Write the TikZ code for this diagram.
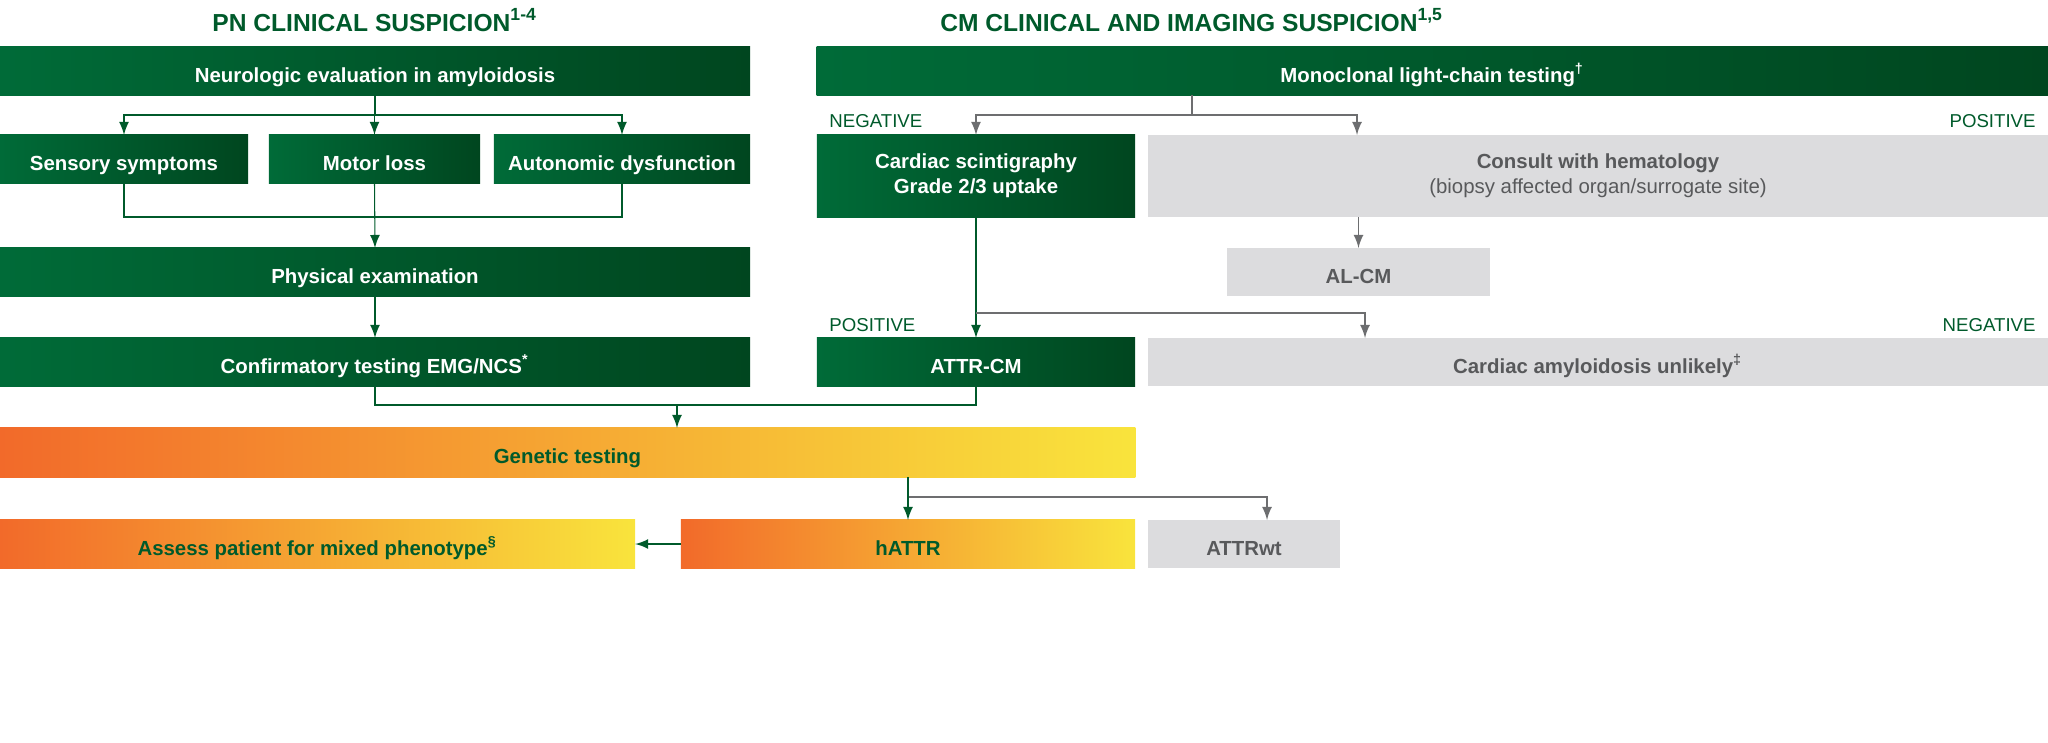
\documentclass[tikz,border=0pt]{standalone}
\usepackage{fontspec}
\setmainfont{Liberation Sans}
\usetikzlibrary{calc}
\usetikzlibrary{arrows}
\usetikzlibrary{positioning}
\definecolor{DarkGreen}{HTML}{005A2B}
\definecolor{MidGreen}{HTML}{006B38}
\definecolor{DeepGreen}{HTML}{00461F}
\definecolor{LightGrey}{HTML}{DCDCDE}
\definecolor{TextGrey}{HTML}{58595B}
\definecolor{FlameOrange}{HTML}{F26A2A}
\definecolor{SunYellow}{HTML}{F9E43C}
\definecolor{LineGrey}{HTML}{6D6E70}
\tikzset{
  box/.style={rectangle, inner sep=0pt, outer sep=0pt, minimum height=0.48cm,
    font=\fontsize{5.8}{7}\selectfont\bfseries, align=center},
  oneline/.style={text height=1.7ex, text depth=.5ex},
  greenbox/.style={box, left color=MidGreen, right color=DeepGreen, text=white},
  greybox/.style={box, fill=LightGrey, text=TextGrey},
  flamebox/.style={box, oneline, left color=FlameOrange, right color=SunYellow, text=DarkGreen},
  title/.style={font=\fontsize{7}{8}\selectfont\bfseries, text=DarkGreen},
  tag/.style={font=\fontsize{5.3}{6}\selectfont, text=DarkGreen},
  link/.style={line width=0.3pt, DarkGreen},
  arr/.style={line width=0.3pt, DarkGreen, -latex},
  glink/.style={line width=0.3pt, LineGrey},
  garr/.style={line width=0.3pt, LineGrey, -latex}
}
\begin{document}
\begin{tikzpicture}[x=0.01cm, y=-0.01cm]
  \useasboundingbox (0,0) rectangle (2048,742);

  % titles
  \node[title] (pntitle) at (375,20) {PN CLINICAL SUSPICION\textsuperscript{1-4}};
  \node[title] (cmtitle) at (1192,20) {CM CLINICAL AND IMAGING SUSPICION\textsuperscript{1,5}};

  % PN column
  \node[greenbox, oneline, minimum width=7.5cm] (neuro) at (375,71) {Neurologic evaluation in amyloidosis};
  \node[greenbox, oneline, minimum width=2.48cm] (sens) at (124,159) {Sensory symptoms};
  \node[greenbox, oneline, minimum width=2.11cm] (motor) at (374.5,159) {Motor loss};
  \node[greenbox, oneline, minimum width=2.56cm] (auto) at (622,159) {Autonomic dysfunction};
  \node[greenbox, oneline, minimum width=7.5cm] (phys) at (375,272) {Physical examination};
  \node[greenbox, oneline, minimum width=7.5cm] (conf) at (375,362) {Confirmatory testing EMG/NCS\textsuperscript{*}};

  % CM column
  \node[greenbox, oneline, minimum width=12.31cm] (mono) at (1432.5,71) {Monoclonal light-chain testing\textsuperscript{\dag}};
  \node[greenbox, minimum width=3.18cm, minimum height=0.82cm] (scint) at (976,176) {Cardiac scintigraphy\\Grade 2/3 uptake};
  \node[greybox, minimum width=9cm, minimum height=0.82cm] (consult) at (1598,176)
    {Consult with hematology\\{\mdseries (biopsy affected organ/surrogate site)}};
  \node[greybox, oneline, minimum width=2.63cm] (alcm) at (1358.5,272) {AL-CM};
  \node[greenbox, oneline, minimum width=3.18cm] (attr) at (976,362) {ATTR-CM};
  \node[greybox, oneline, minimum width=9cm] (unl) at (1598,362) {Cardiac amyloidosis unlikely\textsuperscript{\ddag}};

  \node[tag, anchor=west] (neg1) at (817,121) {NEGATIVE};
  \node[tag, anchor=east] (pos1) at (2048,121) {POSITIVE};
  \node[tag, anchor=west] (pos2) at (817,325) {POSITIVE};
  \node[tag, anchor=east] (neg2) at (2048,325) {NEGATIVE};

  % genetics
  \node[flamebox, minimum width=11.35cm, minimum height=0.49cm] (gen) at (567.5,452.5) {Genetic testing};
  \node[flamebox, minimum width=6.35cm] (assess) at (317.5,544) {Assess patient for mixed phenotype\textsuperscript{\S}};
  \node[flamebox, minimum width=4.54cm] (hattr) at (908,544) {hATTR};
  \node[greybox, oneline, minimum width=1.92cm] (wt) at (1244,544) {ATTRwt};

  % PN connectors
  \coordinate (j1) at ($(neuro.south)+(0,20)$);
  \draw[link] (neuro.south) -- (j1);
  \foreach \n in {sens,motor,auto}{%
    \draw[arr] (j1) -| (\n.north);
  }
  \draw[link] (sens.south) |- ($(motor.south)+(0,34)$) -| (auto.south);
  \draw[arr] (motor.south) -- (phys.north);
  \draw[arr] (phys.south) -- (conf.north);
  \draw[link] (conf.south) -- ++(0,19) -| (attr.south);
  \coordinate (j3) at (677,405);
  \draw[arr] (j3) -- (j3 |- gen.north);

  % CM connectors
  \coordinate (m0) at (1192,95);
  \coordinate (cin) at (1357,135);
  \draw[glink] (m0) -- ++(0,20) coordinate (j2);
  \draw[garr] (j2) -| (scint.north);
  \draw[garr] (j2) -| (cin);
  \draw[garr] (alcm.north |- consult.south) -- (alcm.north);
  \draw[arr] (scint.south) -- (attr.north);
  \coordinate (j4) at (976,313);
  \coordinate (uin) at (1365,338);
  \draw[garr] (j4) -| (uin);

  % genetics connectors
  \coordinate (g0) at (908,477);
  \coordinate (wtin) at (1267,520);
  \draw[glink] (g0) -- ++(0,20) coordinate (j5);
  \draw[garr] (j5) -| (wtin);
  \draw[arr] (g0) -- (hattr.north);
  \draw[arr] (hattr.west) -- (assess.east);
\end{tikzpicture}
\end{document}
